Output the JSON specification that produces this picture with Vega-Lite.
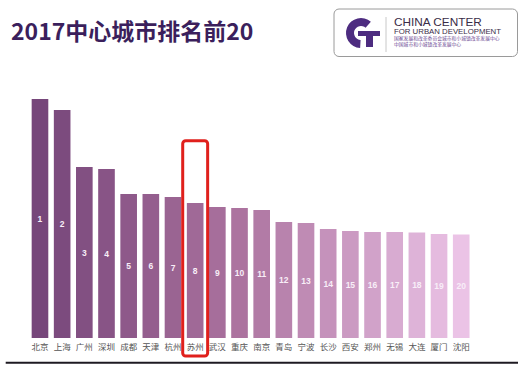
{
  "$schema": "https://vega.github.io/schema/vega-lite/v6.json",
  "width": 482.2,
  "height": 369,
  "autosize": "none",
  "padding": {"left": 9.5, "top": 0, "right": 31.3, "bottom": 0},
  "background": "white",
  "config": {"view": {"stroke": null}, "font": "Noto Sans CJK SC"},
  "title": {
    "text": "2017中心城市排名前20",
    "anchor": "start",
    "frame": "group",
    "fontSize": 23,
    "fontWeight": "bold",
    "color": "#3b1f5c",
    "font": "Noto Sans CJK SC",
    "baseline": "middle",
    "dx": 1.5,
    "dy": 59.5
  },
  "datasets": {
    "cities": [
      {"rank": 1, "city": "北京", "value": 239},
      {"rank": 2, "city": "上海", "value": 228},
      {"rank": 3, "city": "广州", "value": 171},
      {"rank": 4, "city": "深圳", "value": 169},
      {"rank": 5, "city": "成都", "value": 144},
      {"rank": 6, "city": "天津", "value": 144},
      {"rank": 7, "city": "杭州", "value": 141},
      {"rank": 8, "city": "苏州", "value": 135},
      {"rank": 9, "city": "武汉", "value": 131},
      {"rank": 10, "city": "重庆", "value": 130},
      {"rank": 11, "city": "南京", "value": 128},
      {"rank": 12, "city": "青岛", "value": 116},
      {"rank": 13, "city": "宁波", "value": 115},
      {"rank": 14, "city": "长沙", "value": 109},
      {"rank": 15, "city": "西安", "value": 107},
      {"rank": 16, "city": "郑州", "value": 106},
      {"rank": 17, "city": "无锡", "value": 106},
      {"rank": 18, "city": "大连", "value": 105.5},
      {"rank": 19, "city": "厦门", "value": 104},
      {"rank": 20, "city": "沈阳", "value": 103.5}
    ]
  },
  "data": {"name": "cities"},
  "resolve": {"scale": {"x": "independent", "y": "independent"}},
  "layer": [
    {
      "layer": [
        {
          "mark": {"type": "bar"},
          "encoding": {
            "x": {"field": "city", "type": "nominal", "sort": null, "axis": null,
              "scale": {"type": "band", "domain": ["北京","上海","广州","深圳","成都","天津","杭州","苏州","武汉","重庆","南京","青岛","宁波","长沙","西安","郑州","无锡","大连","厦门","沈阳"], "paddingInner": 0.25, "paddingOuter": 1}},
            "y": {"field": "value", "type": "quantitative", "axis": null, "scale": {"domain": [-31, 338], "nice": false, "zero": false}},
            "color": {"field": "rank", "type": "quantitative", "legend": null,
              "scale": {"domain": [1, 10, 20], "range": ["#76467a", "#ac739f", "#ebc3e6"]}}
          }
        },
        {
          "mark": {"type": "text", "fontSize": 8.5, "color": "#555555", "baseline": "middle", "font": "Noto Sans CJK SC"},
          "encoding": {
            "x": {"field": "city", "type": "nominal", "sort": null, "axis": null,
              "scale": {"type": "band", "domain": ["北京","上海","广州","深圳","成都","天津","杭州","苏州","武汉","重庆","南京","青岛","宁波","长沙","西安","郑州","无锡","大连","厦门","沈阳"], "paddingInner": 0.25, "paddingOuter": 1}},
            "y": {"datum": -9, "type": "quantitative", "axis": null, "scale": {"domain": [-31, 338], "nice": false, "zero": false}},
            "text": {"field": "city"}
          }
        },
        {
          "transform": [{"filter": "datum.city === '苏州'"}],
          "mark": {"type": "bar", "filled": false, "stroke": "#e0201c", "strokeWidth": 3, "cornerRadius": 3, "width": {"band": 1.5}},
          "encoding": {
            "x": {"field": "city", "type": "nominal", "sort": null, "axis": null,
              "scale": {"type": "band", "domain": ["北京","上海","广州","深圳","成都","天津","杭州","苏州","武汉","重庆","南京","青岛","宁波","长沙","西安","郑州","无锡","大连","厦门","沈阳"], "paddingInner": 0.25, "paddingOuter": 1}},
            "y": {"datum": 197.3, "type": "quantitative", "axis": null, "scale": {"domain": [-31, 338], "nice": false, "zero": false}},
            "y2": {"datum": -18}
          }
        }
      ]
    },
    {
      "mark": {"type": "text", "fontSize": 8.5, "fontWeight": "bold", "color": "#f8eef8", "baseline": "middle", "font": "Liberation Sans"},
      "encoding": {
        "x": {"field": "city", "type": "nominal", "sort": null, "axis": null,
          "scale": {"type": "band", "domain": ["北京","上海","广州","深圳","成都","天津","杭州","苏州","武汉","重庆","南京","青岛","宁波","长沙","西安","郑州","无锡","大连","厦门","沈阳"], "paddingInner": 0.25, "paddingOuter": 1}},
        "y": {"field": "value", "type": "quantitative", "axis": null, "scale": {"domain": [-62, 676], "nice": false, "zero": false}},
        "text": {"field": "rank"}
      }
    },
    {
      "data": {"values": [{}]},
      "layer": [
        {
          "mark": {"type": "rule", "color": "#1e1a22", "strokeWidth": 2},
          "encoding": {
            "x": {"datum": 5.7, "type": "quantitative", "axis": null, "scale": {"domain": [9.5, 491.7], "nice": false, "zero": false}},
            "x2": {"datum": 518},
            "y": {"datum": 362.7, "type": "quantitative", "axis": null, "scale": {"domain": [0, 369], "nice": false, "zero": false, "reverse": true}}
          }
        },
        {
          "mark": {"type": "rect", "fill": "white", "stroke": "#9a9a9a", "strokeWidth": 1, "cornerRadius": 5},
          "encoding": {
            "x": {"datum": 334, "type": "quantitative", "axis": null, "scale": {"domain": [9.5, 491.7], "nice": false, "zero": false}},
            "x2": {"datum": 517.5},
            "y": {"datum": 9, "type": "quantitative", "axis": null, "scale": {"domain": [0, 369], "nice": false, "zero": false, "reverse": true}},
            "y2": {"datum": 56.5}
          }
        },
        {
          "mark": {"type": "arc", "theta": 3.2, "theta2": 7.0, "radius": 15, "radius2": 7, "color": "#4d2c80"},
          "encoding": {
            "x": {"datum": 361, "type": "quantitative", "axis": null, "scale": {"domain": [9.5, 491.7], "nice": false, "zero": false}},
            "y": {"datum": 33, "type": "quantitative", "axis": null, "scale": {"domain": [0, 369], "nice": false, "zero": false, "reverse": true}}
          }
        },
        {
          "mark": {"type": "rect", "color": "#4d2c80"},
          "encoding": {
            "x": {"datum": 358, "type": "quantitative", "axis": null, "scale": {"domain": [9.5, 491.7], "nice": false, "zero": false}},
            "x2": {"datum": 380},
            "y": {"datum": 31, "type": "quantitative", "axis": null, "scale": {"domain": [0, 369], "nice": false, "zero": false, "reverse": true}},
            "y2": {"datum": 36}
          }
        },
        {
          "mark": {"type": "rect", "color": "#4d2c80"},
          "encoding": {
            "x": {"datum": 366, "type": "quantitative", "axis": null, "scale": {"domain": [9.5, 491.7], "nice": false, "zero": false}},
            "x2": {"datum": 373},
            "y": {"datum": 31, "type": "quantitative", "axis": null, "scale": {"domain": [0, 369], "nice": false, "zero": false, "reverse": true}},
            "y2": {"datum": 47}
          }
        },
        {
          "mark": {"type": "rule", "color": "#c8c8c8", "strokeWidth": 1},
          "encoding": {
            "x": {"datum": 386, "type": "quantitative", "axis": null, "scale": {"domain": [9.5, 491.7], "nice": false, "zero": false}},
            "y": {"datum": 17, "type": "quantitative", "axis": null, "scale": {"domain": [0, 369], "nice": false, "zero": false, "reverse": true}},
            "y2": {"datum": 52}
          }
        },
        {
          "mark": {"type": "text", "align": "left", "baseline": "alphabetic", "fontSize": 11.8, "font": "Liberation Sans", "color": "#3a2d48"},
          "encoding": {
            "x": {"datum": 394, "type": "quantitative", "axis": null, "scale": {"domain": [9.5, 491.7], "nice": false, "zero": false}},
            "y": {"datum": 26.4, "type": "quantitative", "axis": null, "scale": {"domain": [0, 369], "nice": false, "zero": false, "reverse": true}},
            "text": {"value": "CHINA CENTER"}
          }
        },
        {
          "mark": {"type": "text", "align": "left", "baseline": "alphabetic", "fontSize": 7.8, "font": "Liberation Sans", "color": "#3a2d48"},
          "encoding": {
            "x": {"datum": 394, "type": "quantitative", "axis": null, "scale": {"domain": [9.5, 491.7], "nice": false, "zero": false}},
            "y": {"datum": 33.6, "type": "quantitative", "axis": null, "scale": {"domain": [0, 369], "nice": false, "zero": false, "reverse": true}},
            "text": {"value": "FOR URBAN DEVELOPMENT"}
          }
        },
        {
          "mark": {"type": "text", "align": "left", "baseline": "alphabetic", "fontSize": 4.8, "font": "Noto Sans CJK SC", "color": "#6b4792"},
          "encoding": {
            "x": {"datum": 394, "type": "quantitative", "axis": null, "scale": {"domain": [9.5, 491.7], "nice": false, "zero": false}},
            "y": {"datum": 39.9, "type": "quantitative", "axis": null, "scale": {"domain": [0, 369], "nice": false, "zero": false, "reverse": true}},
            "text": {"value": "国家发展和改革委员会城市和小城镇改革发展中心"}
          }
        },
        {
          "mark": {"type": "text", "align": "left", "baseline": "alphabetic", "fontSize": 4.8, "font": "Noto Sans CJK SC", "color": "#6b4792"},
          "encoding": {
            "x": {"datum": 394, "type": "quantitative", "axis": null, "scale": {"domain": [9.5, 491.7], "nice": false, "zero": false}},
            "y": {"datum": 45.5, "type": "quantitative", "axis": null, "scale": {"domain": [0, 369], "nice": false, "zero": false, "reverse": true}},
            "text": {"value": "中国城市和小城镇改革发展中心"}
          }
        }
      ]
    }
  ]
}
